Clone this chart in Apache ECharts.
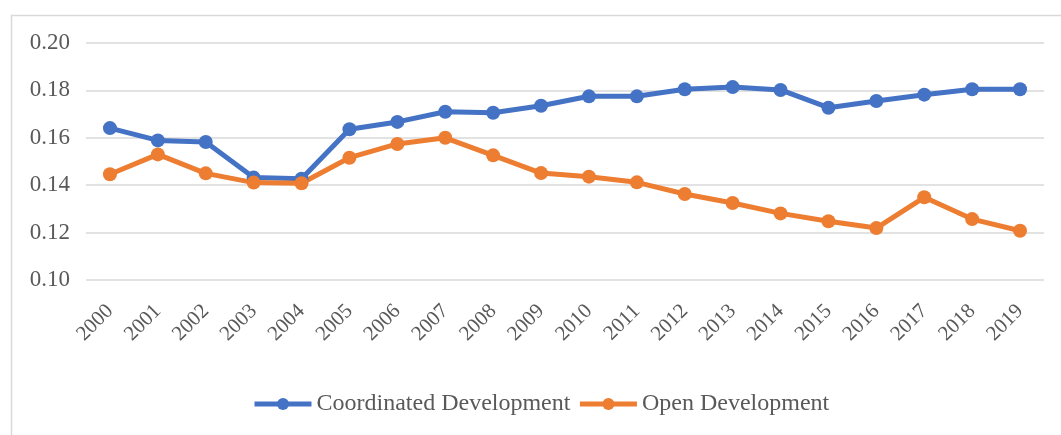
<!DOCTYPE html>
<html>
<head>
<meta charset="utf-8">
<script src="https://cdn.jsdelivr.net/npm/echarts@6/dist/echarts.min.js"></script>
<style>
  html, body { margin: 0; padding: 0; background: #fff; }
  #chart { width: 1061px; height: 435px; }
</style>
</head>
<body>
<div id="chart"></div>
<script>
const years = ['2000', '2001', '2002', '2003', '2004', '2005', '2006', '2007', '2008', '2009',
  '2010', '2011', '2012', '2013', '2014', '2015', '2016', '2017', '2018', '2019'];

const coordinated = [0.1641, 0.1589, 0.1582, 0.1432, 0.1427, 0.1636, 0.1667, 0.1710, 0.1706, 0.1735,
  0.1775, 0.1775, 0.1805, 0.1814, 0.1802, 0.1727, 0.1755, 0.1782, 0.1805, 0.1805];

const openDev = [0.1446, 0.1530, 0.1450, 0.1411, 0.1408, 0.1516, 0.1574, 0.1600, 0.1526, 0.1451,
  0.1436, 0.1412, 0.1363, 0.1325, 0.1281, 0.1248, 0.1219, 0.1349, 0.1257, 0.1208];

const font = '"Liberation Serif", "Times New Roman", serif';

const chart = echarts.init(document.getElementById('chart'), null, { renderer: 'canvas' });

function lineSeries(name, data, color) {
  return {
    name: name,
    type: 'line',
    data: data,
    symbol: 'circle',
    symbolSize: 14,
    lineStyle: { color: color, width: 5 },
    itemStyle: { color: color },
    animation: false
  };
}

chart.setOption({
  backgroundColor: '#fff',
  graphic: [{
    type: 'rect',
    left: 9,
    top: 13,
    shape: { width: 1200, height: 600 },
    style: { fill: 'none', stroke: '#d9d9d9', lineWidth: 1.5 },
    silent: true
  }],
  grid: { left: 86, right: 17, top: 43, bottom: 155 },
  xAxis: {
    type: 'category',
    data: years,
    boundaryGap: true,
    axisLine: { show: false },
    axisTick: { show: false },
    axisLabel: {
      rotate: 45,
      margin: 28,
      interval: 0,
      color: '#595959',
      fontFamily: font,
      fontSize: 21
    }
  },
  yAxis: {
    type: 'value',
    min: 0.10,
    max: 0.20,
    interval: 0.02,
    axisLine: { show: false },
    axisTick: { show: false },
    splitLine: { lineStyle: { color: '#d9d9d9', width: 1.5 } },
    axisLabel: {
      margin: 16,
      color: '#595959',
      fontFamily: font,
      fontSize: 23,
      formatter: v => v.toFixed(2)
    }
  },
  legend: {
    left: 247,
    top: 387,
    itemWidth: 57,
    itemHeight: 15,
    itemGap: 7,
    lineStyle: { width: 5 },
    textStyle: { color: '#595959', fontFamily: font, fontSize: 24 },
    data: ['Coordinated Development', 'Open Development']
  },
  series: [
    lineSeries('Coordinated Development', coordinated, '#4472c4'),
    lineSeries('Open Development', openDev, '#ed7d31')
  ]
});

window.addEventListener('resize', () => chart.resize());
</script>
</body>
</html>
